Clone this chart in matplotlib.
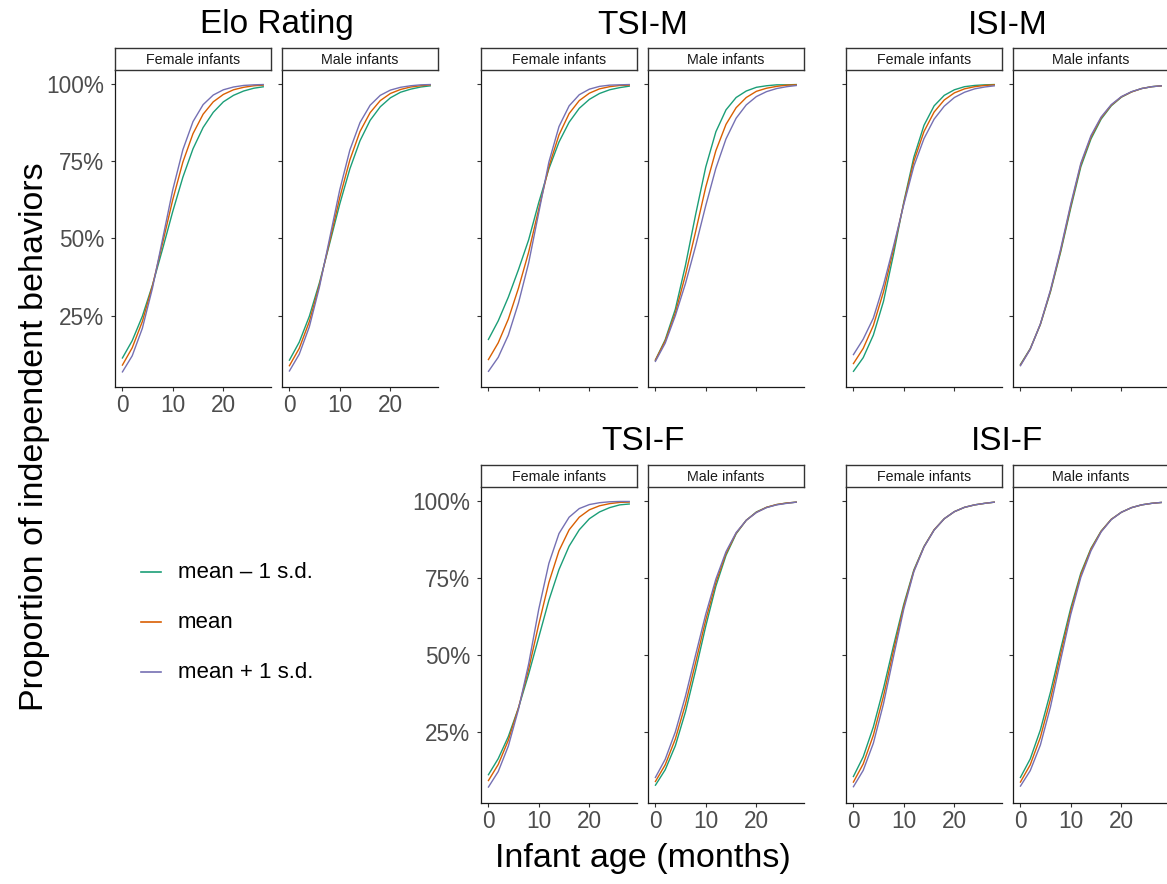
import matplotlib
matplotlib.use("Agg")
import matplotlib.pyplot as plt
from matplotlib.lines import Line2D

plt.rcParams['font.family'] = ['Liberation Sans', 'DejaVu Sans']

# ---------------- data ----------------
months = [0, 2, 4, 6, 8, 10, 12, 14, 16, 18, 20, 22, 24, 26, 28]
facets = ["Female infants", "Male infants"]
legend_labels = ["mean \u2013 1 s.d.", "mean", "mean + 1 s.d."]
series_colors = ["#1B9E77", "#D95F02", "#7570B3"]
y_ticks = [0.25, 0.50, 0.75, 1.00]
y_ticklabels = ["25%", "50%", "75%", "100%"]
x_ticks = [0, 10, 20]

# Elo Rating
elo_f_minus = [0.111, 0.169, 0.248, 0.349, 0.466, 0.587, 0.698, 0.790, 0.859, 0.908, 0.942, 0.963, 0.977, 0.986, 0.991]
elo_f_mean  = [0.088, 0.146, 0.231, 0.347, 0.485, 0.625, 0.747, 0.839, 0.902, 0.942, 0.966, 0.981, 0.989, 0.994, 0.996]
elo_f_plus  = [0.066, 0.120, 0.209, 0.339, 0.498, 0.657, 0.787, 0.878, 0.933, 0.964, 0.981, 0.990, 0.995, 0.997, 0.998]
elo_m_minus = [0.104, 0.164, 0.248, 0.357, 0.483, 0.611, 0.725, 0.816, 0.882, 0.926, 0.955, 0.973, 0.983, 0.990, 0.994]
elo_m_mean  = [0.086, 0.144, 0.231, 0.350, 0.490, 0.632, 0.754, 0.846, 0.907, 0.946, 0.969, 0.982, 0.990, 0.994, 0.997]
elo_m_plus  = [0.069, 0.125, 0.214, 0.343, 0.500, 0.657, 0.786, 0.875, 0.931, 0.963, 0.980, 0.989, 0.994, 0.997, 0.998]

# TSI-M
tsim_f_minus = [0.171, 0.233, 0.310, 0.399, 0.495, 0.616, 0.725, 0.812, 0.876, 0.921, 0.950, 0.969, 0.981, 0.988, 0.993]
tsim_f_mean  = [0.106, 0.162, 0.239, 0.339, 0.455, 0.595, 0.732, 0.835, 0.904, 0.946, 0.970, 0.984, 0.991, 0.995, 0.996]
tsim_f_plus  = [0.068, 0.115, 0.187, 0.291, 0.420, 0.583, 0.747, 0.862, 0.929, 0.965, 0.983, 0.992, 0.996, 0.997, 0.998]
tsim_m_minus = [0.104, 0.172, 0.271, 0.413, 0.577, 0.731, 0.845, 0.916, 0.956, 0.977, 0.989, 0.994, 0.997, 0.997, 0.998]
tsim_m_mean  = [0.104, 0.168, 0.259, 0.382, 0.522, 0.666, 0.784, 0.869, 0.923, 0.956, 0.976, 0.986, 0.992, 0.996, 0.997]
tsim_m_plus  = [0.100, 0.161, 0.250, 0.354, 0.475, 0.606, 0.727, 0.822, 0.889, 0.932, 0.959, 0.975, 0.985, 0.991, 0.995]

# ISI-M
isim_f_minus = [0.068, 0.114, 0.187, 0.296, 0.450, 0.617, 0.763, 0.866, 0.929, 0.963, 0.981, 0.991, 0.995, 0.997, 0.998]
isim_f_mean  = [0.093, 0.144, 0.218, 0.327, 0.466, 0.613, 0.750, 0.846, 0.909, 0.948, 0.971, 0.984, 0.991, 0.995, 0.997]
isim_f_plus  = [0.122, 0.174, 0.242, 0.349, 0.476, 0.609, 0.734, 0.823, 0.886, 0.928, 0.956, 0.973, 0.984, 0.990, 0.994]
isim_m_minus = [0.090, 0.143, 0.221, 0.327, 0.455, 0.598, 0.732, 0.822, 0.886, 0.929, 0.957, 0.974, 0.985, 0.991, 0.994]
isim_m_mean  = [0.088, 0.142, 0.222, 0.330, 0.460, 0.605, 0.739, 0.828, 0.890, 0.931, 0.958, 0.974, 0.985, 0.991, 0.994]
isim_m_plus  = [0.086, 0.141, 0.223, 0.333, 0.465, 0.611, 0.744, 0.833, 0.893, 0.933, 0.959, 0.975, 0.985, 0.991, 0.994]

# TSI-F
tsif_f_minus = [0.109, 0.163, 0.235, 0.328, 0.437, 0.557, 0.677, 0.777, 0.853, 0.906, 0.942, 0.964, 0.978, 0.987, 0.990]
tsif_f_mean  = [0.090, 0.144, 0.223, 0.328, 0.453, 0.599, 0.735, 0.838, 0.906, 0.947, 0.971, 0.984, 0.991, 0.995, 0.996]
tsif_f_plus  = [0.069, 0.121, 0.204, 0.323, 0.470, 0.648, 0.797, 0.894, 0.947, 0.975, 0.988, 0.994, 0.997, 0.998, 0.998]
tsif_m_minus = [0.075, 0.127, 0.205, 0.315, 0.450, 0.593, 0.723, 0.823, 0.893, 0.937, 0.964, 0.979, 0.988, 0.993, 0.996]
tsif_m_mean  = [0.087, 0.143, 0.227, 0.340, 0.475, 0.613, 0.735, 0.829, 0.895, 0.937, 0.963, 0.979, 0.988, 0.993, 0.996]
tsif_m_plus  = [0.100, 0.161, 0.250, 0.366, 0.500, 0.632, 0.746, 0.835, 0.897, 0.937, 0.962, 0.978, 0.987, 0.992, 0.996]

# ISI-F
isif_f_minus = [0.103, 0.169, 0.266, 0.391, 0.531, 0.664, 0.776, 0.852, 0.906, 0.942, 0.965, 0.979, 0.987, 0.992, 0.996]
isif_f_mean  = [0.085, 0.146, 0.239, 0.366, 0.515, 0.657, 0.773, 0.851, 0.906, 0.942, 0.965, 0.979, 0.987, 0.992, 0.996]
isif_f_plus  = [0.070, 0.125, 0.213, 0.341, 0.496, 0.648, 0.770, 0.850, 0.905, 0.942, 0.965, 0.979, 0.987, 0.992, 0.996]
isif_m_minus = [0.100, 0.162, 0.256, 0.379, 0.518, 0.652, 0.766, 0.846, 0.902, 0.940, 0.963, 0.978, 0.987, 0.992, 0.995]
isif_m_mean  = [0.085, 0.143, 0.232, 0.356, 0.502, 0.642, 0.760, 0.843, 0.901, 0.940, 0.963, 0.978, 0.987, 0.992, 0.995]
isif_m_plus  = [0.072, 0.124, 0.207, 0.331, 0.483, 0.631, 0.752, 0.838, 0.899, 0.939, 0.963, 0.978, 0.987, 0.992, 0.995]

panels = [
    dict(title="Elo Rating", row=0, left=115, ylab=True, xlab=True,
         data=[(elo_f_minus, elo_f_mean, elo_f_plus), (elo_m_minus, elo_m_mean, elo_m_plus)]),
    dict(title="TSI-M", row=0, left=481, ylab=False, xlab=False,
         data=[(tsim_f_minus, tsim_f_mean, tsim_f_plus), (tsim_m_minus, tsim_m_mean, tsim_m_plus)]),
    dict(title="ISI-M", row=0, left=846, ylab=False, xlab=False,
         data=[(isim_f_minus, isim_f_mean, isim_f_plus), (isim_m_minus, isim_m_mean, isim_m_plus)]),
    dict(title="TSI-F", row=1, left=481, ylab=True, xlab=True,
         data=[(tsif_f_minus, tsif_f_mean, tsif_f_plus), (tsif_m_minus, tsif_m_mean, tsif_m_plus)]),
    dict(title="ISI-F", row=1, left=846, ylab=False, xlab=True,
         data=[(isif_f_minus, isif_f_mean, isif_f_plus), (isif_m_minus, isif_m_mean, isif_m_plus)]),
]

# ---------------- layout ----------------
W, H = 1167, 884
fig = plt.figure(figsize=(W / 100, H / 100), dpi=100)
fig.patch.set_facecolor("white")

def rect(l, r, t, b):
    return [l / W, 1 - b / H, (r - l) / W, (b - t) / H]

PANEL_W = 156
GAP = 11
rows = {0: dict(strip_t=48, axes_t=70, axes_b=387, title_y=25),
        1: dict(strip_t=465, axes_t=487, axes_b=803, title_y=442)}

axis_col = "#1A1A1A"
tick_col = "#333333"
text_col = "#4D4D4D"

for p in panels:
    r = rows[p["row"]]
    for k, facet in enumerate(facets):
        l = p["left"] + k * (PANEL_W + GAP)
        ax = fig.add_axes(rect(l, l + PANEL_W, r["axes_t"], r["axes_b"]))
        for s, color in enumerate(series_colors):
            ax.plot(months, p["data"][k][s], color=color, lw=1.0, solid_capstyle="butt")
        ax.set_xlim(-1.4, 29.4)
        ax.set_ylim(0.019, 1.045)
        for side in ["top", "right"]:
            ax.spines[side].set_visible(False)
        for side in ["left", "bottom"]:
            ax.spines[side].set_color(axis_col)
            ax.spines[side].set_linewidth(0.9)
        ax.set_xticks(x_ticks)
        ax.set_yticks(y_ticks)
        ax.tick_params(axis="both", length=2.75, width=0.8, color=tick_col,
                       labelsize=16.3, labelcolor=text_col)
        ax.tick_params(axis="x", pad=2)
        ax.tick_params(axis="y", pad=5)
        if p["xlab"]:
            ax.set_xticklabels([str(v) for v in x_ticks])
        else:
            ax.set_xticklabels([])
        if p["ylab"] and k == 0:
            ax.set_yticklabels(y_ticklabels)
        else:
            ax.set_yticklabels([])
        ax.patch.set_alpha(0)

        # strip
        sax = fig.add_axes(rect(l, l + PANEL_W, r["strip_t"], r["axes_t"]))
        sax.set_xticks([]); sax.set_yticks([])
        for sp in sax.spines.values():
            sp.set_color("#333333")
            sp.set_linewidth(1.0)
        sax.text(0.5, 0.47, facet, ha="center", va="center", fontsize=10.3,
                 color="#1A1A1A", transform=sax.transAxes)

    cx = p["left"] + PANEL_W + GAP / 2
    fig.text(cx / W, 1 - r["title_y"] / H, p["title"], ha="center", va="center",
             fontsize=24, color="black")

# axis titles
fig.text(643 / W, 1 - 858 / H, "Infant age (months)", ha="center", va="center",
         fontsize=24.5, color="black")
fig.text(35 / W, 1 - 437 / H, "Proportion of independent behaviors", ha="center",
         va="center", rotation=90, fontsize=24.5, color="black")

# legend
leg_y = [572, 622, 672]
for lab, col, yy in zip(legend_labels, series_colors, leg_y):
    fig.add_artist(Line2D([141 / W, 161 / W], [1 - yy / H, 1 - yy / H],
                          color=col, lw=1.2))
    fig.text(178 / W, 1 - yy / H, lab, ha="left", va="center", fontsize=16,
             color="black")

fig.savefig("out.png", dpi=100, facecolor="white")
